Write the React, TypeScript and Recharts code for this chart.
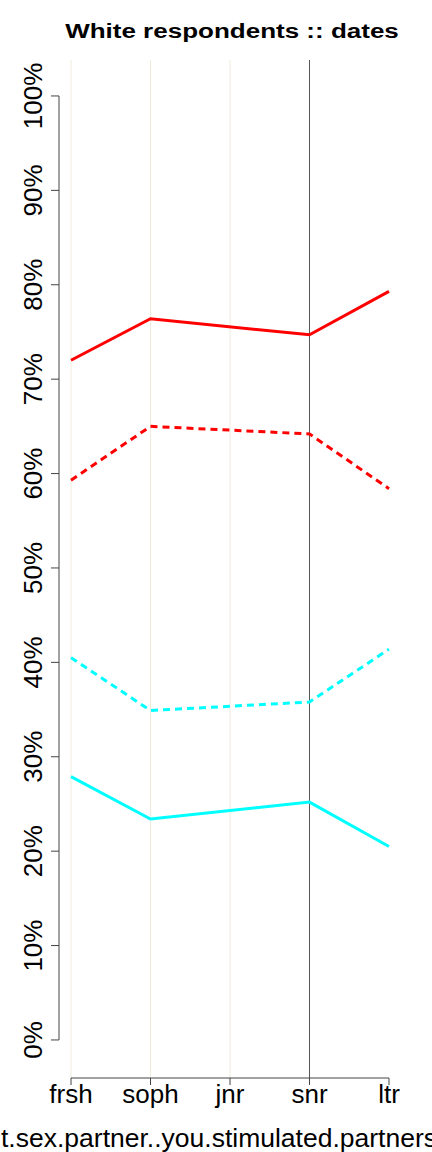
import React from 'react';
import { LineChart, Line, XAxis, YAxis, ReferenceLine } from 'recharts';

const categories = ['frsh', 'soph', 'jnr', 'snr', 'ltr'];
const redSolid = [72.0, 76.4, null, 74.7, 79.3];
const redDashed = [59.3, 65.0, null, 64.2, 58.4];
const cyanDashed = [40.5, 34.9, null, 35.8, 41.4];
const cyanSolid = [27.9, 23.4, null, 25.2, 20.5];
const yTicks = [0, 10, 20, 30, 40, 50, 60, 70, 80, 90, 100];

const data = categories.map((c, i) => ({
  idx: i,
  cat: c,
  redSolid: redSolid[i],
  redDashed: redDashed[i],
  cyanDashed: cyanDashed[i],
  cyanSolid: cyanSolid[i],
}));

const FONT = '"Liberation Sans", Arial, sans-serif';
const X_DOMAIN: [number, number] = [-0.151, 4.151];
const Y_DOMAIN: [number, number] = [-4.03, 103.81];

const YTick = (props: any) => {
  const { x, y, payload } = props;
  const tx = x - 3;
  return (
    <text
      x={tx}
      y={y}
      transform={`rotate(-90, ${tx}, ${y})`}
      textAnchor="middle"
      fontSize={26}
      fontFamily={FONT}
      fill="#000"
    >
      {payload.value}%
    </text>
  );
};

const XTick = (props: any) => {
  const { x, y, payload } = props;
  return (
    <text x={x} y={y} dy={16} textAnchor="middle" fontSize={26} fontFamily={FONT} fill="#000">
      {categories[payload.value]}
    </text>
  );
};

// axis title is wider than the page in the original, left part is cut off
const XLabel = (props: any) => {
  const { viewBox } = props;
  return (
    <text
      x={1}
      y={viewBox.y + 69}
      textAnchor="start"
      fontSize={26.5}
      fontFamily={FONT}
      fill="#000"
    >
      t.sex.partner..you.stimulated.partners
    </text>
  );
};

const App = () => {
  return (
    <div style={{ position: 'absolute', left: 0, top: 0, width: 432, height: 1152, background: '#fff' }}>
      <div
        style={{
          position: 'absolute',
          left: 61,
          width: 342,
          top: 18.5,
          textAlign: 'center',
          fontFamily: FONT,
          fontWeight: 'bold',
          fontSize: 20,
          lineHeight: '24px',
          whiteSpace: 'nowrap',
          transform: 'scaleX(1.3)',
          transformOrigin: 'center',
        }}
      >
        White respondents :: dates
      </div>
      <LineChart
        width={432}
        height={1152}
        data={data}
        margin={{ top: 60, right: 31, bottom: 0, left: 0 }}
      >
        <XAxis
          dataKey="idx"
          type="number"
          domain={X_DOMAIN}
          allowDataOverflow
          ticks={[0, 1, 2, 3, 4]}
          height={74}
          axisLine={false}
          tickSize={7}
          tickMargin={2}
          tickLine={{ stroke: '#444' }}
          tick={<XTick />}
          label={<XLabel />}
        />
        <YAxis
          type="number"
          domain={Y_DOMAIN}
          allowDataOverflow
          ticks={yTicks}
          width={59}
          axisLine={false}
          tickSize={8}
          tickMargin={6}
          tickLine={{ stroke: '#444' }}
          tick={<YTick />}
        />
        <ReferenceLine x={0} stroke="#efecdc" strokeWidth={1} />
        <ReferenceLine x={1} stroke="#efecdc" strokeWidth={1} />
        <ReferenceLine x={2} stroke="#efecdc" strokeWidth={1} />
        <ReferenceLine x={3} stroke="#555" strokeWidth={1} />
        <ReferenceLine
          segment={[{ x: X_DOMAIN[0], y: 0 }, { x: X_DOMAIN[0], y: 100 }]}
          stroke="#444"
          ifOverflow="visible"
        />
        <ReferenceLine
          segment={[{ x: 0, y: Y_DOMAIN[0] }, { x: 4, y: Y_DOMAIN[0] }]}
          stroke="#444"
          ifOverflow="visible"
        />
        <Line
          dataKey="redSolid"
          stroke="#ff0000"
          strokeWidth={3}
          dot={false}
          connectNulls
          isAnimationActive={false}
        />
        <Line
          dataKey="redDashed"
          stroke="#ff0000"
          strokeWidth={3}
          strokeDasharray="7 5"
          dot={false}
          connectNulls
          isAnimationActive={false}
        />
        <Line
          dataKey="cyanDashed"
          stroke="#00ffff"
          strokeWidth={3}
          strokeDasharray="7 5"
          dot={false}
          connectNulls
          isAnimationActive={false}
        />
        <Line
          dataKey="cyanSolid"
          stroke="#00ffff"
          strokeWidth={3}
          dot={false}
          connectNulls
          isAnimationActive={false}
        />
      </LineChart>
    </div>
  );
};

export default App;
